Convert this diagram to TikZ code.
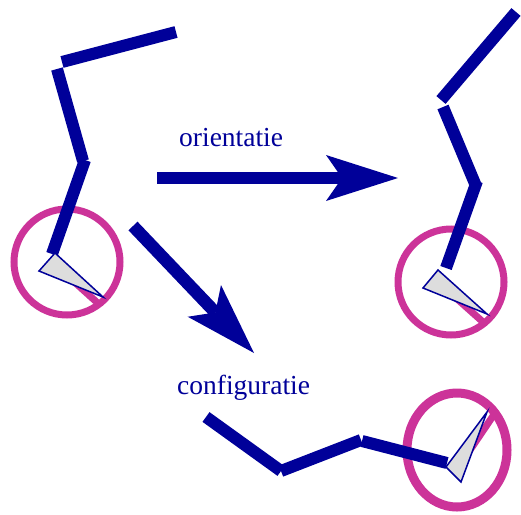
\documentclass[tikz,border=0pt]{standalone}
\usepackage{fontspec}
\setmainfont{Liberation Serif}
\usetikzlibrary{arrows.meta}
\definecolor{navy}{HTML}{000099}
\definecolor{pinkm}{HTML}{CC3399}
\definecolor{pointerfill}{HTML}{DDDDDD}
\begin{document}
\begin{tikzpicture}[x=1pt,y=-1pt,
  bar/.style={navy, line width=12pt, line cap=butt},
  ring/.style={pinkm, line width=7pt},
  hand/.style={pinkm, line width=7pt, line cap=butt},
  pointer/.style={fill=pointerfill, draw=navy, line width=1.5pt, line join=miter},
  bigarrow/.style={navy, line width=12.5pt, -{Stealth[length=72pt,width=46pt,inset=16pt,line width=0pt]}},
  lbl/.style={text=navy, font=\fontsize{27.5}{30}\selectfont, inner sep=0pt, anchor=base west}]
\useasboundingbox (0,0) rectangle (521,514);

% ---------- left figure (start) ----------
\coordinate (lc) at (67,262);
\draw[ring] (lc) circle[radius=53];
\coordinate (lh1) at (70,278);
\coordinate (lh2) at (101,306);
\draw[hand] (lh1) -- (lh2);
\coordinate (la1) at (62,62);   \coordinate (la2) at (176,32);
\coordinate (lb1) at (57,69);   \coordinate (lb2) at (83,161);
\coordinate (ld1) at (85,160);  \coordinate (ld2) at (52,254);
\draw[bar] (la1) -- (la2);
\draw[bar] (lb1) -- (lb2);
\draw[bar] (ld1) -- (ld2);
\coordinate (lt1) at (55,253); \coordinate (lt2) at (39,271); \coordinate (lt3) at (103,297);
\draw[pointer] (lt1) -- (lt2) -- (lt3) -- cycle;

% ---------- right figure (orientatie) ----------
\coordinate (rc) at (451,282);
\draw[ring] (rc) circle[radius=53];
\coordinate (rh1) at (455,297);
\coordinate (rh2) at (483,322);
\draw[hand] (rh1) -- (rh2);
\coordinate (ra1) at (441,100); \coordinate (ra2) at (516,12);
\coordinate (rb1) at (443,107); \coordinate (rb2) at (476,186);
\coordinate (rd1) at (477,181); \coordinate (rd2) at (446,268);
\draw[bar] (ra1) -- (ra2);
\draw[bar] (rb1) -- (rb2);
\draw[bar] (rd1) -- (rd2);
\coordinate (rt1) at (438,270); \coordinate (rt2) at (423,288); \coordinate (rt3) at (487,314);
\draw[pointer] (rt1) -- (rt2) -- (rt3) -- cycle;

% ---------- bottom figure (configuratie) ----------
\coordinate (bc) at (457,450);
\draw[pinkm, line width=9pt] (bc) ellipse[x radius=50, y radius=57];
\coordinate (bh1) at (470,450);
\coordinate (bh2) at (495,413);
\draw[hand] (bh1) -- (bh2);
\coordinate (ba1) at (206,417); \coordinate (ba2) at (281,471);
\coordinate (bb1) at (281,471); \coordinate (bb2) at (361,440);
\coordinate (bd1) at (362,441); \coordinate (bd2) at (447,463);
\draw[bar] (ba1) -- (ba2);
\draw[bar] (bb1) -- (bb2);
\draw[bar] (bd1) -- (bd2);
\coordinate (bt1) at (446,467); \coordinate (bt2) at (487,412); \coordinate (bt3) at (461,482);
\draw[pointer] (bt1) -- (bt2) -- (bt3) -- cycle;

% ---------- arrows and labels ----------
\coordinate (h0) at (157,178); \coordinate (h1) at (398,178);
\draw[bigarrow] (h0) -- (h1);
\coordinate (d0) at (133,226); \coordinate (d1) at (254,353);
\draw[bigarrow] (d0) -- (d1);
\node[lbl] (orient) at (179,146) {orientatie};
\node[lbl] (config) at (177,394) {configuratie};
\end{tikzpicture}
\end{document}
